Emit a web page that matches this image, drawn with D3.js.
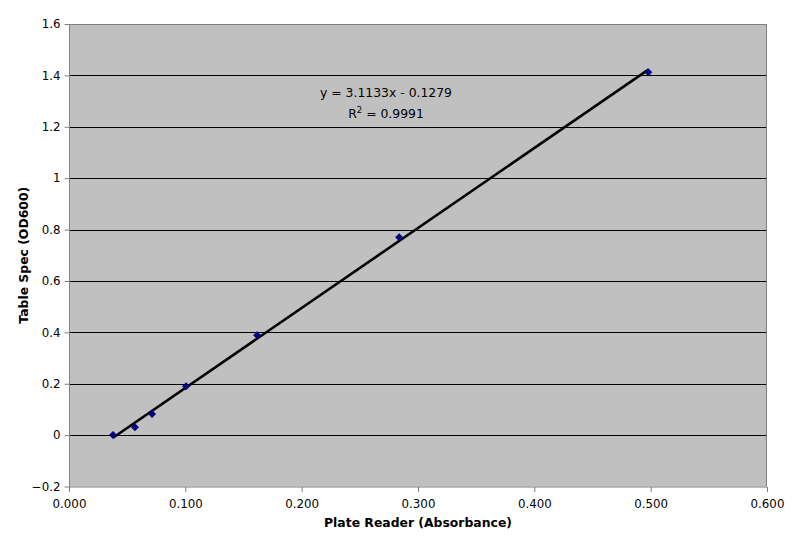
<!DOCTYPE html>
<html><head><meta charset="utf-8">
<script src="https://cdn.jsdelivr.net/npm/d3@7"></script>
<style>body{margin:0;background:#fff;} text{font-family:"DejaVu Sans",Verdana,sans-serif;}</style>
</head><body>
<svg id="c" width="800" height="547"></svg>
<script>
const xValues = [0.0378, 0.0567, 0.0714, 0.1006, 0.1617, 0.2838, 0.4980];
const yValues = [0.000, 0.031, 0.082, 0.190, 0.389, 0.770, 1.412];
const xTicks = [0, 0.1, 0.2, 0.3, 0.4, 0.5, 0.6];
const yTicks = [-0.2, 0, 0.2, 0.4, 0.6, 0.8, 1, 1.2, 1.4, 1.6];
const slope = 3.1133, intercept = -0.1279;
const eqText = "y = 3.1133x - 0.1279";
const r2Value = "0.9991";

const svg = d3.select("#c");
const m = {l:69, r:767, t:24, b:486.5};
const x = d3.scaleLinear().domain([0,0.6]).range([m.l, m.r]);
const y = d3.scaleLinear().domain([-0.2,1.6]).range([m.b, m.t]);

svg.append("rect").attr("x",m.l).attr("y",m.t).attr("width",m.r-m.l).attr("height",m.b-m.t)
  .attr("fill","#c0c0c0");

svg.append("g").selectAll("line").data(yTicks.filter(d=>d>-0.2)).join("line")
  .attr("x1",m.l).attr("x2",m.r).attr("y1",d=>Math.round(y(d))+0.5).attr("y2",d=>Math.round(y(d))+0.5)
  .attr("stroke","#000").attr("stroke-width",1);

svg.append("rect").attr("x",m.l+0.5).attr("y",m.t+0.5).attr("width",m.r-m.l-1).attr("height",m.b-m.t)
  .attr("fill","none").attr("stroke","#808080");

const yAxis = svg.append("g").attr("transform",`translate(${m.l+0.5},0)`)
  .call(d3.axisLeft(y).tickValues(yTicks).tickFormat(d=>d3.format("")(+d.toFixed(1))).tickSize(5).tickPadding(4));
const xAxis = svg.append("g").attr("transform",`translate(0,${m.b+0.5})`)
  .call(d3.axisBottom(x).tickValues(xTicks).tickFormat(d3.format(".3f")).tickSize(5).tickPadding(8));
[yAxis,xAxis].forEach(a=>{
  a.select(".domain").remove();
  a.selectAll(".tick line").attr("stroke","#808080");
  a.selectAll("text").attr("font-size",11.8).attr("fill","#000").style("font-family","'DejaVu Sans',Verdana,sans-serif");
});

const x0 = d3.min(xValues), x1 = d3.max(xValues);
svg.append("line").attr("x1",x(x0)).attr("y1",y(slope*x0+intercept))
  .attr("x2",x(x1)).attr("y2",y(slope*x1+intercept))
  .attr("stroke","#000").attr("stroke-width",2.6);

const r = 4;
svg.append("g").selectAll("path").data(xValues.map((v,i)=>[v,yValues[i]])).join("path")
  .attr("d",`M0,${-r}L${r},0L0,${r}L${-r},0Z`)
  .attr("transform",d=>`translate(${x(d[0])},${y(d[1])})`).attr("fill","#000080");

svg.append("text").attr("x",386).attr("y",97).attr("text-anchor","middle").attr("font-size",12.4).text(eqText);
const r2 = svg.append("text").attr("x",386).attr("y",118).attr("text-anchor","middle").attr("font-size",12.4);
r2.append("tspan").text("R");
r2.append("tspan").attr("font-size",8.5).attr("dy",-5).text("2");
r2.append("tspan").attr("dy",5).text(" = " + r2Value);

svg.append("text").attr("x",(m.l+m.r)/2).attr("y",527).attr("text-anchor","middle")
  .attr("font-size",12.4).attr("font-weight","bold").text("Plate Reader (Absorbance)");
svg.append("text").attr("transform",`translate(28,${(m.t+m.b)/2}) rotate(-90)`).attr("text-anchor","middle")
  .attr("font-size",12.4).attr("font-weight","bold").text("Table Spec (OD600)");
</script>
</body></html>
